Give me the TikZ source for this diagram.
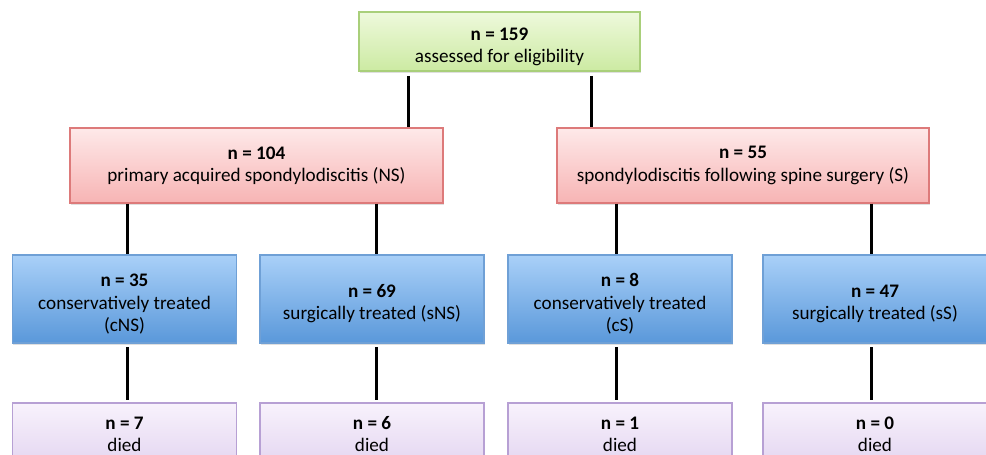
\documentclass[tikz,border=0pt]{standalone}
\usepackage{fontspec}
\setmainfont{Carlito}
\usetikzlibrary{calc,shadows}

\definecolor{grnTop}{HTML}{EEF9DC}
\definecolor{grnBot}{HTML}{CCEAA2}
\definecolor{grnLine}{HTML}{A9CF7A}
\definecolor{redTop}{HTML}{FEE9E9}
\definecolor{redBot}{HTML}{F7B4B4}
\definecolor{redLine}{HTML}{DD7A7A}
\definecolor{bluTop}{HTML}{A9D0F8}
\definecolor{bluBot}{HTML}{5A98DA}
\definecolor{bluLine}{HTML}{6FA0D6}
\definecolor{purTop}{HTML}{F8F2FC}
\definecolor{purBot}{HTML}{E4D6F1}
\definecolor{purLine}{HTML}{B7A0D4}

\newcommand{\mkbox}[6]{% #1: name, #2: style, #3: x, #4: y, #5: width, #6: text
	\node[#2, minimum width=#5*0.02cm] (#1) at (#3,#4) {#6};
}
\newcommand{\lowtxt}{\rule{0pt}{13pt}}

\begin{document}
\begin{tikzpicture}[x=0.02cm,y=-0.02cm,
	box/.style={draw, line width=0.6pt, align=center, inner sep=0pt,
		font=\fontsize{10.9}{12.6}\selectfont,
		drop shadow={shadow xshift=0.4pt, shadow yshift=-1.2pt, opacity=0.25}},
	greenbox/.style={box, draw=grnLine, top color=grnTop, bottom color=grnBot, minimum height=59*0.02cm},
	redbox/.style={box, draw=redLine, top color=redTop, bottom color=redBot, minimum height=75*0.02cm},
	bluebox/.style={box, draw=bluLine, top color=bluTop, bottom color=bluBot, minimum height=88*0.02cm},
	purplebox/.style={box, draw=purLine, top color=purTop, bottom color=purBot, minimum height=62*0.02cm},
	link/.style={line width=1.7pt}]
	
	% Fix the page
	\useasboundingbox (0,0) rectangle (986,455);
	\clip (0,0) rectangle (986,455);
	
	% Top box
	\mkbox{all}{greenbox}{499.5}{41.5}{281}{\lowtxt\textbf{n = 159}\\assessed for eligibility}
	
	% Groups
	\mkbox{ns}{redbox}{256.5}{165.5}{373}{\textbf{n = 104}\\primary acquired spondylodiscitis (NS)}
	\mkbox{s}{redbox}{743}{165.5}{372}{\textbf{n = 55}\\spondylodiscitis following spine surgery (S)}
	
	% Treatment
	\mkbox{cns}{bluebox}{124.5}{299}{224}{\lowtxt\textbf{n = 35}\\conservatively treated\\(cNS)}
	\mkbox{sns}{bluebox}{372}{299}{224}{\lowtxt\textbf{n = 69}\\surgically treated (sNS)}
	\mkbox{cs}{bluebox}{620}{299}{224}{\lowtxt\textbf{n = 8}\\conservatively treated\\(cS)}
	\mkbox{ss}{bluebox}{875}{299}{224}{\lowtxt\textbf{n = 47}\\surgically treated (sS)}
	
	% Deaths
	\mkbox{dcns}{purplebox}{124.5}{434}{224}{\textbf{n = 7}\\died}
	\mkbox{dsns}{purplebox}{372}{434}{224}{\textbf{n = 6}\\died}
	\mkbox{dcs}{purplebox}{620}{434}{224}{\textbf{n = 1}\\died}
	\mkbox{dss}{purplebox}{875}{434}{224}{\textbf{n = 0}\\died}
	
	% Connectors
	\coordinate (a1) at ($(all.south west)!0.178!(all.south east)$);
	\coordinate (a2) at ($(all.south west)!0.826!(all.south east)$);
	\draw[link] ([yshift=-2.5pt]a1) -- (a1 |- ns.north);
	\draw[link] ([yshift=-2.5pt]a2) -- (a2 |- s.north);
	
	\coordinate (b1) at ($(ns.south west)!0.156!(ns.south east)$);
	\coordinate (b2) at ($(ns.south west)!0.82!(ns.south east)$);
	\coordinate (b3) at ($(s.south west)!0.161!(s.south east)$);
	\coordinate (b4) at ($(s.south west)!0.844!(s.south east)$);
	\draw[link] (b1) -- (b1 |- cns.north);
	\draw[link] (b2) -- (b2 |- sns.north);
	\draw[link] (b3) -- (b3 |- cs.north);
	\draw[link] (b4) -- (b4 |- ss.north);
	
	\foreach \p/\u/\v in {b1/cns/dcns,b2/sns/dsns,b3/cs/dcs,b4/ss/dss}
		\draw[link, shorten <=2pt, shorten >=1.5pt] (\p |- \u.south) -- (\p |- \v.north);
	
\end{tikzpicture}
\end{document}
